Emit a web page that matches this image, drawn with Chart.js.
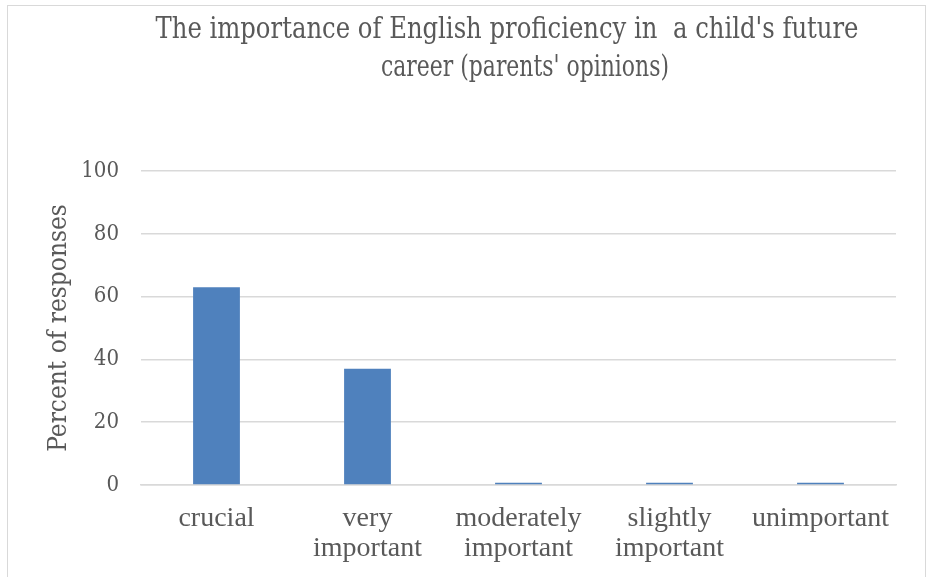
<!DOCTYPE html>
<html>
<head>
<meta charset="utf-8">
<script src="https://cdn.jsdelivr.net/npm/chart.js@4.4.1/dist/chart.umd.min.js"></script>
<style>
  html, body { margin: 0; padding: 0; background: #fff; }
  #wrap { position: relative; width: 926px; height: 577px; overflow: hidden; }
  #frame { position: absolute; left: 7px; top: 5px; width: 917px; height: 620px; border: 1.5px solid #d9d9d9; }
  canvas { position: absolute; left: 0; top: 0; }
</style>
</head>
<body>
<div id="wrap">
  <div id="frame"></div>
  <canvas id="chart" width="926" height="577"></canvas>
</div>
<script>
// chart data
const titleLines = ["The importance of English proficiency in  a child's future", "career (parents' opinions)"];
const categories = [["crucial"], ["very", "important"], ["moderately", "important"], ["slightly", "important"], ["unimportant"]];
const percents = [63, 37, 0.7, 0.7, 0.7];
const yTicks = [0, 20, 40, 60, 80, 100];
const yLabel = "Percent of responses";

const TEXT = "#595959";
const GRID = "#d9d9d9";
const CAMBRIA = "'DejaVu Serif Condensed', 'DejaVu Serif', serif";

// title drawn by hand so it can sit off-centre like the original.
// each line gets squeezed to the width it had in the picture (Cambria is narrower than DejaVu)
const titleSpots = [
  { x: 507, y: 38, w: 703 },
  { x: 525, y: 76, w: 288 },
];

const titlePlugin = {
  id: "sheetTitle",
  afterDraw(chart) {
    const ctx = chart.ctx;
    ctx.save();
    ctx.fillStyle = TEXT;
    ctx.font = "29px " + CAMBRIA;
    ctx.textAlign = "center";
    ctx.textBaseline = "alphabetic";
    titleLines.forEach((line, i) => {
      const spot = titleSpots[i];
      const squeeze = Math.min(1, spot.w / ctx.measureText(line).width);
      ctx.save();
      ctx.scale(squeeze, 1);
      ctx.fillText(line, spot.x / squeeze, spot.y);
      ctx.restore();
    });
    ctx.restore();
  },
};

new Chart(document.getElementById("chart"), {
  type: "bar",
  data: {
    labels: categories,
    datasets: [{
      data: percents,
      backgroundColor: "#4f81bd",
      borderWidth: 0,
      categoryPercentage: 1,
      barPercentage: 0.31,
    }],
  },
  options: {
    responsive: false,
    animation: false,
    layout: { padding: { left: 30, top: 171, right: 30, bottom: 0 } },
    plugins: { legend: { display: false }, tooltip: { enabled: false } },
    scales: {
      x: {
        grid: { display: false, drawTicks: false },
        border: { color: GRID, width: 1.5, z: -1 },
        ticks: { color: TEXT, padding: 19, maxRotation: 0, autoSkip: false,
          font: { family: "'Liberation Serif', serif", size: 28, lineHeight: 1.07 } },
        afterFit(scale) { scale.height = 92; },
      },
      y: {
        min: 0,
        max: 100,
        afterBuildTicks(scale) { scale.ticks = yTicks.map((v) => ({ value: v })); },
        grid: { color: GRID, lineWidth: 1.5, drawTicks: false },
        border: { display: false },
        ticks: { color: TEXT, padding: 22, font: { family: CAMBRIA, size: 22 } },
        title: { display: true, text: yLabel, color: TEXT, padding: { top: 14, bottom: 0 },
          font: { family: CAMBRIA, size: 26 } },
        afterFit(scale) { scale.width = 111; },
      },
    },
  },
  plugins: [titlePlugin],
});
</script>
</body>
</html>
